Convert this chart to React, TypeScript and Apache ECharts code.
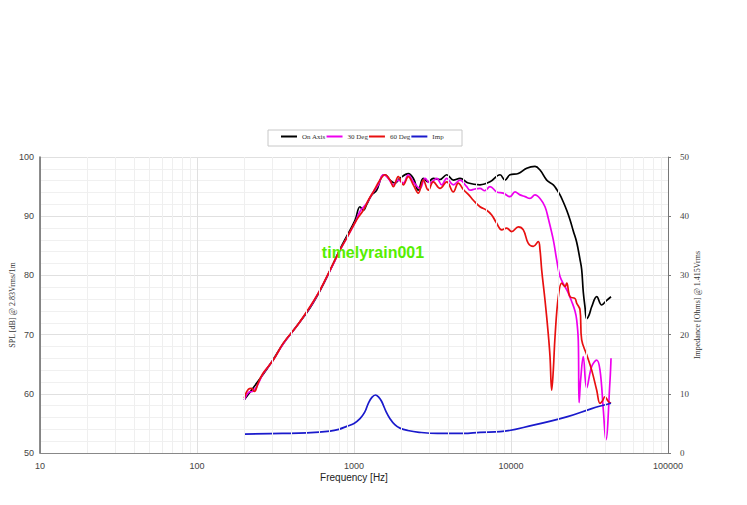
import React, { useEffect, useRef } from "react";
import * as echarts from "echarts";

const seriesNames = ["On Axis", "30 Deg", "60 Deg", "Imp"];

const onAxisFreq = [200, 264, 306, 355, 431, 524, 607, 703, 814, 898, 1015, 1092, 1146, 1205, 1296, 1395, 1501, 1576, 1696, 1825, 1963, 2218, 2386, 2568, 2763, 2973, 3200, 3531, 3895, 4291, 4734, 5346, 6346, 7349, 8511, 9159, 9854, 11131, 12589, 14219, 15301, 16883, 18598, 19552, 20520, 21536, 22636, 23758, 24932, 26207, 27504, 28196, 28866, 29594, 30345, 31400, 32659, 35153, 37822, 40705, 43356];
const onAxisSpl = [59.0, 63.3, 65.8, 68.5, 71.4, 74.5, 77.4, 80.8, 84.4, 86.6, 89.3, 91.6, 91.0, 92.0, 93.6, 94.4, 96.7, 97.0, 96.1, 95.6, 96.4, 97.2, 96.4, 94.4, 96.4, 95.8, 96.4, 96.2, 97.0, 96.1, 96.4, 95.6, 95.3, 95.8, 97.0, 96.1, 97.0, 97.2, 98.1, 98.4, 97.8, 96.1, 95.3, 94.5, 93.6, 92.4, 91.0, 89.4, 87.5, 85.6, 82.7, 81.0, 77.2, 74.7, 72.7, 73.3, 74.7, 76.4, 75.0, 75.8, 76.4];

const deg30Freq = [200, 215, 225, 240, 264, 306, 355, 431, 524, 607, 703, 814, 898, 1015, 1092, 1205, 1327, 1428, 1537, 1654, 1780, 1915, 2061, 2218, 2386, 2633, 2833, 3049, 3364, 3620, 3895, 4291, 4734, 5222, 5482, 5899, 6346, 6800, 7349, 8108, 8933, 9854, 10605, 11411, 12283, 13213, 14219, 15301, 16468, 17285, 18598, 19552, 20520, 22079, 23174, 24354, 25560, 26207, 26830, 27150, 27800, 28866, 30345, 32659, 35153, 36893, 38721, 40200, 42727, 43356];
const deg30Spl = [59.0, 60.3, 60.4, 61.2, 63.4, 65.7, 68.5, 71.4, 74.6, 77.5, 80.8, 84.2, 86.3, 88.9, 90.8, 92.2, 94.1, 95.3, 97.0, 96.4, 95.3, 96.1, 95.6, 97.0, 95.8, 94.7, 96.4, 95.6, 96.4, 95.3, 96.4, 95.3, 96.1, 95.0, 94.4, 94.6, 94.7, 94.3, 95.0, 94.1, 93.9, 93.3, 94.1, 93.6, 93.3, 93.0, 93.6, 93.0, 91.6, 89.6, 86.0, 82.6, 79.8, 78.1, 77.0, 75.6, 74.0, 72.5, 69.0, 58.5, 62.5, 66.3, 61.0, 64.6, 65.7, 64.0, 57.3, 52.2, 62.3, 66.0];

const deg60Freq = [200, 213, 222, 232, 245, 264, 306, 355, 431, 524, 607, 703, 814, 898, 1040, 1146, 1234, 1327, 1464, 1576, 1696, 1780, 1915, 2061, 2218, 2386, 2568, 2763, 2973, 3200, 3531, 3895, 4291, 4617, 4969, 5346, 5754, 6346, 7000, 7535, 8108, 8727, 9389, 10104, 11131, 11979, 12888, 13868, 14925, 15301, 15687, 16468, 17285, 17720, 18166, 18600, 19070, 20015, 21035, 22079, 22636, 23758, 25560, 26207, 27504, 28196, 30345, 32659, 35153, 36893, 38200, 39697, 41670, 43356];
const deg60Spl = [59.3, 60.8, 60.9, 60.4, 61.8, 63.5, 65.7, 68.6, 71.4, 74.7, 77.5, 80.9, 84.3, 86.3, 89.4, 91.0, 92.7, 94.1, 96.1, 97.0, 96.1, 95.0, 96.7, 95.3, 96.7, 95.3, 93.9, 96.1, 94.4, 95.8, 94.7, 95.8, 94.1, 95.6, 94.5, 93.7, 92.7, 91.6, 91.0, 90.2, 88.8, 87.7, 88.0, 87.4, 88.2, 87.7, 85.4, 84.9, 85.7, 84.3, 80.9, 75.8, 70.0, 66.3, 60.6, 64.0, 69.6, 76.4, 78.7, 78.1, 78.7, 76.4, 76.1, 75.3, 74.2, 69.1, 66.6, 64.0, 60.6, 58.4, 58.8, 59.5, 58.7, 58.4];

const impFreq = [200, 350, 500, 703, 800, 898, 1000, 1092, 1170, 1234, 1300, 1370, 1440, 1501, 1600, 1696, 1820, 1963, 2200, 2600, 3400, 5000, 6346, 8511, 13868, 22636, 32659, 43356];
const impOhm = [3.2, 3.3, 3.4, 3.7, 4.0, 4.5, 5.0, 5.8, 6.9, 8.4, 9.4, 9.8, 9.4, 8.7, 7.0, 5.8, 4.8, 4.2, 3.8, 3.5, 3.3, 3.3, 3.5, 3.6, 4.7, 6.1, 7.5, 8.4];

const zip = (f: number[], v: number[]) => f.map((x, i) => [x, v[i]]);

export default function App() {
  const ref = useRef<HTMLDivElement>(null);
  useEffect(() => {
    document.body.style.margin = "0";
    if (!ref.current) return;
    const chart = echarts.init(ref.current, undefined, { renderer: "svg" });

    const minorX: any[] = [];
    for (let d = 10; d < 100000; d *= 10) {
      for (let k = 2; k <= 9; k++) minorX.push({ xAxis: d * k });
    }

    const lineSeries = (name: string, data: number[][], color: string, yIdx: number) => ({
      name,
      type: "line",
      data,
      yAxisIndex: yIdx,
      showSymbol: false,
      symbol: "none",
      smooth: 0.4,
      z: 3,
      lineStyle: { color, width: 1.7 },
      itemStyle: { color },
    });

    const option: any = {
      animation: false,
      backgroundColor: "#ffffff",
      grid: { left: 40, right: 79, top: 157, bottom: 52, outerBoundsMode: "none" },
      legend: {
        data: seriesNames,
        left: 281,
        top: 133,
        padding: 0,
        icon: "rect",
        itemWidth: 16,
        itemHeight: 2,
        itemGap: 1,
        textStyle: { fontSize: 7, fontFamily: "Liberation Serif", color: "#333", width: 26 },
      },
      xAxis: {
        type: "log",
        logBase: 10,
        min: 10,
        max: 100000,
        name: "Frequency [Hz]",
        nameLocation: "middle",
        nameGap: 19,
        nameMoveOverlap: false,
        nameTextStyle: { fontSize: 10, color: "#222", fontFamily: "Liberation Sans" },
        axisLine: { show: true, lineStyle: { color: "#888", width: 1 } },
        axisTick: { show: false },
        axisLabel: {
          fontSize: 9,
          color: "#444",
          fontFamily: "Liberation Sans",
          margin: 8,
          formatter: (v: number) => String(Math.round(v)),
        },
        splitLine: { show: true, lineStyle: { color: "#e0e0e0", width: 1 } },
      },
      yAxis: [
        {
          type: "value",
          min: 50,
          max: 100,
          interval: 10,
          position: "left",
          name: "SPL [dB] @ 2.83Vrms/1m",
          nameLocation: "middle",
          nameRotate: 90,
          nameGap: 24,
          nameMoveOverlap: false,
          nameTextStyle: { fontSize: 8, fontFamily: "Liberation Serif", color: "#333" },
          axisLine: { show: true, lineStyle: { color: "#666", width: 1.5 } },
          axisTick: { show: false },
          axisLabel: { fontSize: 9, color: "#444", fontFamily: "Liberation Sans", margin: 6 },
          splitLine: { show: true, lineStyle: { color: "#e0e0e0", width: 1 } },
          minorTick: { show: false, splitNumber: 5 },
          minorSplitLine: { show: true, lineStyle: { color: "#f0f0f0", width: 1 } },
        },
        {
          type: "value",
          min: 0,
          max: 50,
          interval: 10,
          position: "right",
          name: "Impedance [Ohms] @ 1.415Vrms",
          nameLocation: "middle",
          nameRotate: 90,
          nameGap: 25,
          nameMoveOverlap: false,
          nameTextStyle: { fontSize: 8, fontFamily: "Liberation Serif", color: "#333" },
          axisLine: { show: true, lineStyle: { color: "#777", width: 1 } },
          axisTick: { show: true, length: 3, lineStyle: { color: "#777" } },
          axisLabel: { fontSize: 9, color: "#444", fontFamily: "Liberation Serif", margin: 12 },
          splitLine: { show: false },
        },
      ],
      series: [
        {
          name: "grid-minor",
          type: "line",
          data: [],
          z: 1,
          silent: true,
          markLine: {
            silent: true,
            symbol: ["none", "none"],
            label: { show: false },
            lineStyle: { color: "#efefef", type: "solid", width: 1 },
            emphasis: { disabled: true },
            data: minorX,
          },
        },
        lineSeries("On Axis", zip(onAxisFreq, onAxisSpl), "#000000", 0),
        lineSeries("30 Deg", zip(deg30Freq, deg30Spl), "#ee00ee", 0),
        lineSeries("60 Deg", zip(deg60Freq, deg60Spl), "#e81010", 0),
        lineSeries("Imp", zip(impFreq, impOhm), "#1a1acc", 1),
      ],
      graphic: [
        {
          type: "rect",
          z: 0,
          shape: { x: 268, y: 130, width: 194, height: 16 },
          style: { fill: "#ffffff", stroke: "#c8c8c8", lineWidth: 1 },
        },
        {
          type: "text",
          z: 100,
          x: 373,
          y: 252,
          style: {
            text: "timelyrain001",
            fill: "#55ee00",
            fontSize: 16,
            fontWeight: "bold",
            fontFamily: "Liberation Sans",
            align: "center",
            verticalAlign: "middle",
          },
        },
      ],
    };

    chart.setOption(option);
    return () => chart.dispose();
  }, []);

  return <div ref={ref} style={{ width: 747, height: 505 }} />;
}
